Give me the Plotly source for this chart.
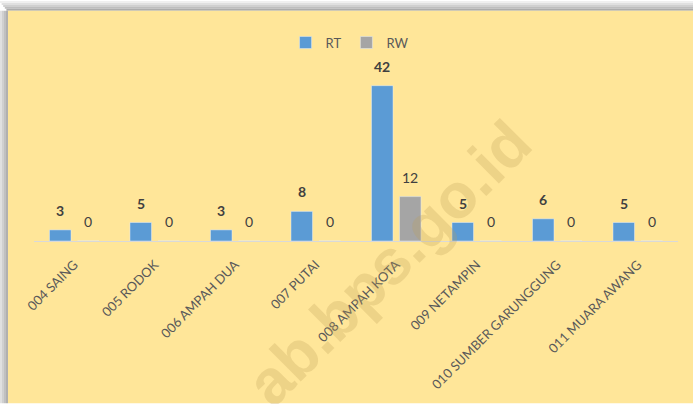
import plotly.graph_objects as go

categories = ["004 SAING", "005 RODOK", "006 AMPAH DUA", "007 PUTAI",
              "008 AMPAH KOTA", "009 NETAMPIN", "010 SUMBER GARUNGGUNG", "011 MUARA AWANG"]
rt_values = [3, 5, 3, 8, 42, 5, 6, 5]
rw_values = [0, 0, 0, 0, 12, 0, 0, 0]
series_names = ["RT", "RW"]
watermark = "ab.bps.go.id"

W, H = 693, 404
L, R, T, B = 34, 15, 60, 160
ph = H - T - B  # plot height in px
ymax = ph / 3.76

BLUE = "#5B9BD5"
GRAY = "#A5A5A5"
TXT = "#404040"

fig = go.Figure()
fig.add_trace(go.Bar(x=categories, y=rt_values, name=series_names[0], marker_color=BLUE))
fig.add_trace(go.Bar(x=categories, y=rw_values, name=series_names[1], marker_color=GRAY))

annotations = []
for c, v in zip(categories, rt_values):
    annotations.append(dict(x=c, y=v, text=str(v), showarrow=False, xshift=-14, yshift=9,
                            yanchor="bottom", font=dict(family="Lato", size=14, color=TXT, weight="bold")))
for c, v in zip(categories, rw_values):
    annotations.append(dict(x=c, y=v, text=str(v), showarrow=False, xshift=14, yshift=9,
                            yanchor="bottom", font=dict(family="Lato", size=14, color=TXT)))

# watermark
def px_to_paper(xp, yp):
    return (xp - L) / (W - L - R), (H - B - yp) / ph

wx, wy = px_to_paper(388, 266)
annotations.append(dict(xref="paper", yref="paper", x=wx, y=wy, text=watermark, showarrow=False,
                        textangle=-45, xanchor="center", yanchor="middle",
                        font=dict(family="Liberation Sans", size=63, color="rgba(190,160,90,0.27)", weight="bold")))

# background with shadow on top and left
shapes = []
def rect(x0, y0, x1, y1, color):
    a0, b0 = px_to_paper(x0, y0)
    a1, b1 = px_to_paper(x1, y1)
    shapes.append(dict(type="rect", xref="paper", yref="paper", x0=a0, y0=b1, x1=a1, y1=b0,
                       fillcolor=color, line=dict(width=0), layer="below"))

top_cols = ["#f0f0f0", "#e0e0e0", "#d0d0d0", "#bebebe", "#acacac"]
for i, col in enumerate(top_cols):
    rect(i * 1.6, i * 2, W + 5, i * 2 + 2, col)
left_cols = ["#e0e0e0", "#d0d0d0", "#c0c0c0", "#b0b0b0"]
for i, col in enumerate(left_cols):
    rect(i * 2, 10, i * 2 + 2, H + 5, col)
rect(8, 10, W + 5, H + 5, "#FFE699")

fig.update_layout(
    width=W, height=H,
    margin=dict(l=L, r=R, t=T, b=B),
    paper_bgcolor="white",
    plot_bgcolor="rgba(0,0,0,0)",
    barmode="group",
    bargap=0.304,
    bargroupgap=0.232,
    showlegend=True,
    legend=dict(orientation="h", x=0.49, xanchor="center", y=(H - B - 27) / ph, yanchor="top",
                font=dict(family="Lato", size=13, color="#595959"), bgcolor="rgba(0,0,0,0)",
                itemwidth=30),
    xaxis=dict(showline=True, linecolor="#D9D9D9", linewidth=1, showgrid=False, ticks="",
               tickangle=-45, ticklabelstandoff=10,
               tickfont=dict(family="Lato", size=13, color="#595959")),
    yaxis=dict(visible=False, range=[0, ymax], showgrid=False, zeroline=False),
    annotations=annotations,
    shapes=shapes,
    font=dict(family="Lato"),
)

fig.write_html("out.html", config={"displayModeBar": False},
               post_script="document.body.style.margin='0';document.body.style.overflow='hidden';")
